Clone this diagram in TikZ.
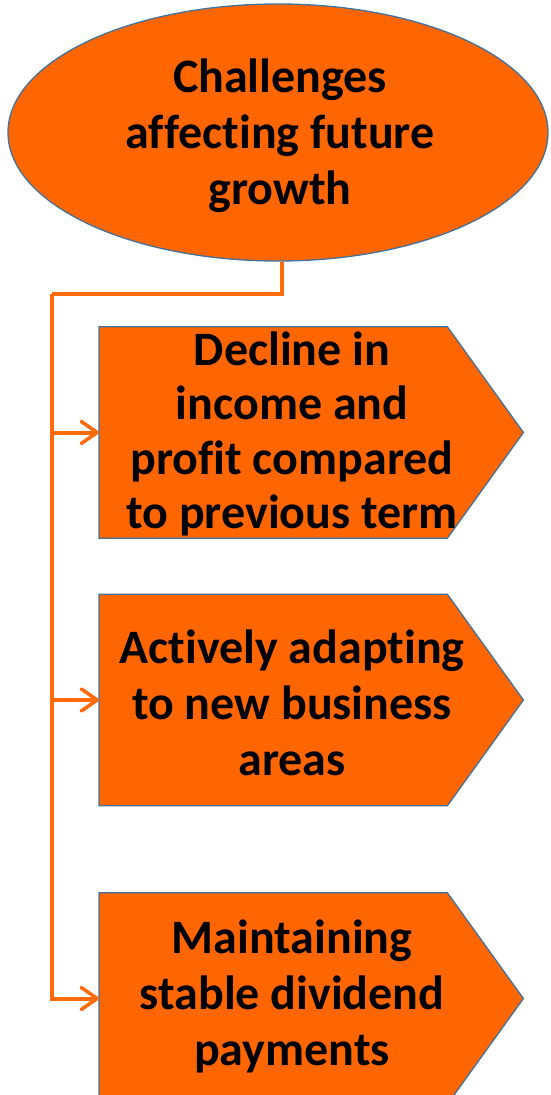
\documentclass[tikz,border=0pt]{standalone}
\usepackage{fontspec}
\setmainfont{Carlito}[Ligatures=NoCommon]
\usetikzlibrary{shapes.geometric,arrows.meta,calc}
\definecolor{boxfill}{HTML}{FF6600}
\definecolor{boxline}{HTML}{41719C}
\definecolor{linkcol}{HTML}{FF6A0A}
\begin{document}
\begin{tikzpicture}[x=1pt,y=-1pt,
  label text/.style={align=center,font=\fontsize{48}{56}\selectfont\bfseries,text=black},
  outline/.style={fill=boxfill,draw=boxline,line width=1.3pt,line join=miter},
  holder/.style={rectangle,minimum width=348pt,minimum height=211pt,inner sep=0pt,anchor=west},
  conn/.style={draw=linkcol,line width=4pt,line join=miter,
    -{Straight Barb[length=16pt,width=22pt,line width=3.5pt,round]}}]
\useasboundingbox (0,0) rectangle (550,1095);
\clip (0,0) rectangle (550,1095);

% top ellipse
\node[ellipse,outline,minimum width=540pt,minimum height=257pt,inner sep=0pt]
  (top) at (278,132.5) {};
\node[label text] (toptext) at (280,136) {Challenges\\affecting future\\growth};

% pentagon holders (rectangular body of each arrow box)
\node[holder] (b1) at (99,432.5) {};
\node[holder] (b2) at (99,700) {};
\node[holder] (b3) at (99,998.5) {};

\foreach \b in {b1,b2,b3}{
  \path[outline] (\b.north west) -- (\b.north east) -- ($(\b.east)+(76,0)$)
     -- (\b.south east) -- (\b.south west) -- cycle;
}

\node[label text,font=\fontsize{48}{54.5}\selectfont\bfseries] (t1) at (292,434) {Decline in\\income and\\profit compared\\to previous term};
\node[label text] (t2) at (292,703) {Actively adapting\\to new business\\areas};
\node[label text] (t3) at (292,996) {Maintaining\\stable dividend\\payments};

% connectors
\coordinate (trunk) at (52,294);
\draw[draw=linkcol,line width=4pt,line join=miter] ([xshift=4pt]top.south) |- (trunk);
\draw[conn] (trunk) |- (b1.west);
\draw[conn] (trunk) |- (b2.west);
\draw[conn] (trunk) |- (b3.west);
\end{tikzpicture}
\end{document}
